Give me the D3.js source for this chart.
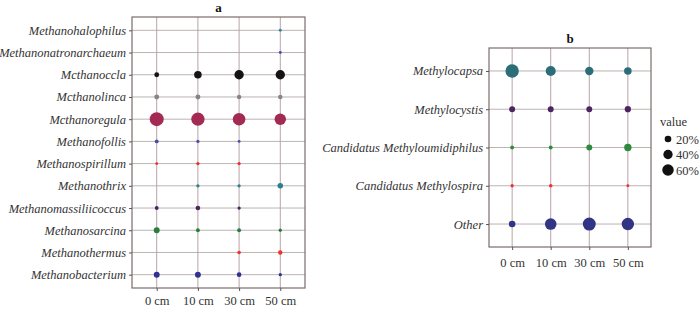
<!DOCTYPE html>
<html><head><meta charset="utf-8">
<script src="https://cdn.jsdelivr.net/npm/d3@7"></script>
<style>body{margin:0;background:#fff}svg{display:block}</style>
</head><body>
<svg id="chart" width="700" height="313"></svg>
<script>
const depths = ["0 cm","10 cm","30 cm","50 cm"];

// Panel a
const generaA = ["Methanohalophilus","Methanonatronarchaeum","Mcthanoccla","Mcthanolinca","Mcthanoregula","Methanofollis","Methanospirillum","Methanothrix","Methanomassiliicoccus","Methanosarcina","Methanothermus","Methanobacterium"];
const valuesA = [
  [null,null,null,4],
  [null,null,null,4],
  [11,26,40,40],
  [11,11,9,9],
  [89,80,72,60],
  [7,5,4,null],
  [4,5,5,null],
  [null,5,5,14],
  [7,10,5,null],
  [16,7,7,5],
  [null,null,6,9],
  [16,16,10,5]
];
const colorsA = ["#2a8c9c","#4b4bb0","#141414","#858585","#a32a52","#4c4cae","#e8312c","#2a8090","#4c2460","#2a7d3c","#f2302c","#2f3290"];

// Panel b
const generaB = ["Methylocapsa","Methylocystis","Candidatus Methyloumidiphilus","Candidatus Methylospira","Other"];
const valuesB = [
  [82,46,32,26],
  [16,16,16,18],
  [7,7,16,25],
  [5,6,null,4],
  [20,61,77,70]
];
const colorsB = ["#2b6e78","#4c2460","#2e8b3e","#ee3232","#323484"];

const legendBreaks = [20,40,60];
const legendLabels = ["20%","40%","60%"];

const svg = d3.select("#chart");
const r = d3.scaleSqrt().domain([0,100]).range([0,7.4]);
const serif = "'Times New Roman','Liberation Serif',serif";

function panel(cfg){
  const g = svg.append("g");
  const x = d3.scalePoint().domain(depths).range([cfg.x0,cfg.x1]).padding(0.6);
  const y = d3.scalePoint().domain(cfg.genera).range([cfg.y0,cfg.y1]).padding(0.6);
  g.selectAll("line.h").data(cfg.genera).join("line")
    .attr("x1",cfg.x0).attr("x2",cfg.x1).attr("y1",d=>y(d)).attr("y2",d=>y(d))
    .attr("stroke","#bdb3b3").attr("stroke-width",1);
  g.selectAll("line.v").data(depths).join("line")
    .attr("y1",cfg.y0).attr("y2",cfg.y1).attr("x1",d=>x(d)).attr("x2",d=>x(d))
    .attr("stroke","#b9a3a8").attr("stroke-width",1);
  g.append("rect").attr("x",cfg.x0).attr("y",cfg.y0)
    .attr("width",cfg.x1-cfg.x0).attr("height",cfg.y1-cfg.y0)
    .attr("fill","none").attr("stroke","#7d6c6c").attr("stroke-width",1.2);
  const ay = g.append("g").attr("transform",`translate(${cfg.x0},0)`)
    .call(d3.axisLeft(y).tickSize(3).tickPadding(3));
  ay.select(".domain").remove();
  ay.selectAll(".tick line").attr("stroke","#555");
  ay.selectAll("text").attr("font-family",serif).attr("font-style","italic")
    .attr("font-size",cfg.fs).attr("fill","#333");
  const ax = g.append("g").attr("transform",`translate(0,${cfg.y1})`)
    .call(d3.axisBottom(x).tickSize(3).tickPadding(cfg.xpad));
  ax.select(".domain").remove();
  ax.selectAll(".tick line").attr("stroke","#555");
  ax.selectAll("text").attr("font-family",serif).attr("font-size",12.5).attr("fill","#333");
  const pts = [];
  cfg.values.forEach((row,i)=>row.forEach((v,j)=>{ if(v!=null) pts.push({g:cfg.genera[i],d:depths[j],v,c:cfg.colors[i]}); }));
  g.selectAll("circle.p").data(pts).join("circle")
    .attr("cx",d=>x(d.d)).attr("cy",d=>y(d.g)).attr("r",d=>r(d.v)).attr("fill",d=>d.c);
  g.append("text").attr("x",(cfg.x0+cfg.x1)/2).attr("y",cfg.y0-5)
    .attr("text-anchor","middle").attr("font-family",serif).attr("font-weight","bold")
    .attr("font-size",13).attr("fill","#111").text(cfg.title);
}

panel({x0:132,x1:305,y0:17,y1:288,genera:generaA,values:valuesA,colors:colorsA,title:"a",fs:12.5,xpad:5});
panel({x0:489,x1:651,y0:48,y1:247,genera:generaB,values:valuesB,colors:colorsB,title:"b",fs:12.5,xpad:8});

const lg = svg.append("g");
lg.append("text").attr("x",660).attr("y",126).attr("font-family",serif).attr("font-size",12.5).attr("fill","#333").text("value");
const ly = d3.scalePoint().domain(legendBreaks).range([139,170]);
lg.selectAll("circle").data(legendBreaks).join("circle")
  .attr("cx",668).attr("cy",d=>ly(d)).attr("r",d=>r(d)).attr("fill","#111");
lg.selectAll("text.l").data(legendBreaks).join("text")
  .attr("x",676).attr("y",d=>ly(d)+4.5).attr("font-family",serif).attr("font-size",12.5).attr("fill","#333")
  .text((d,i)=>legendLabels[i]);
</script>
</body></html>
